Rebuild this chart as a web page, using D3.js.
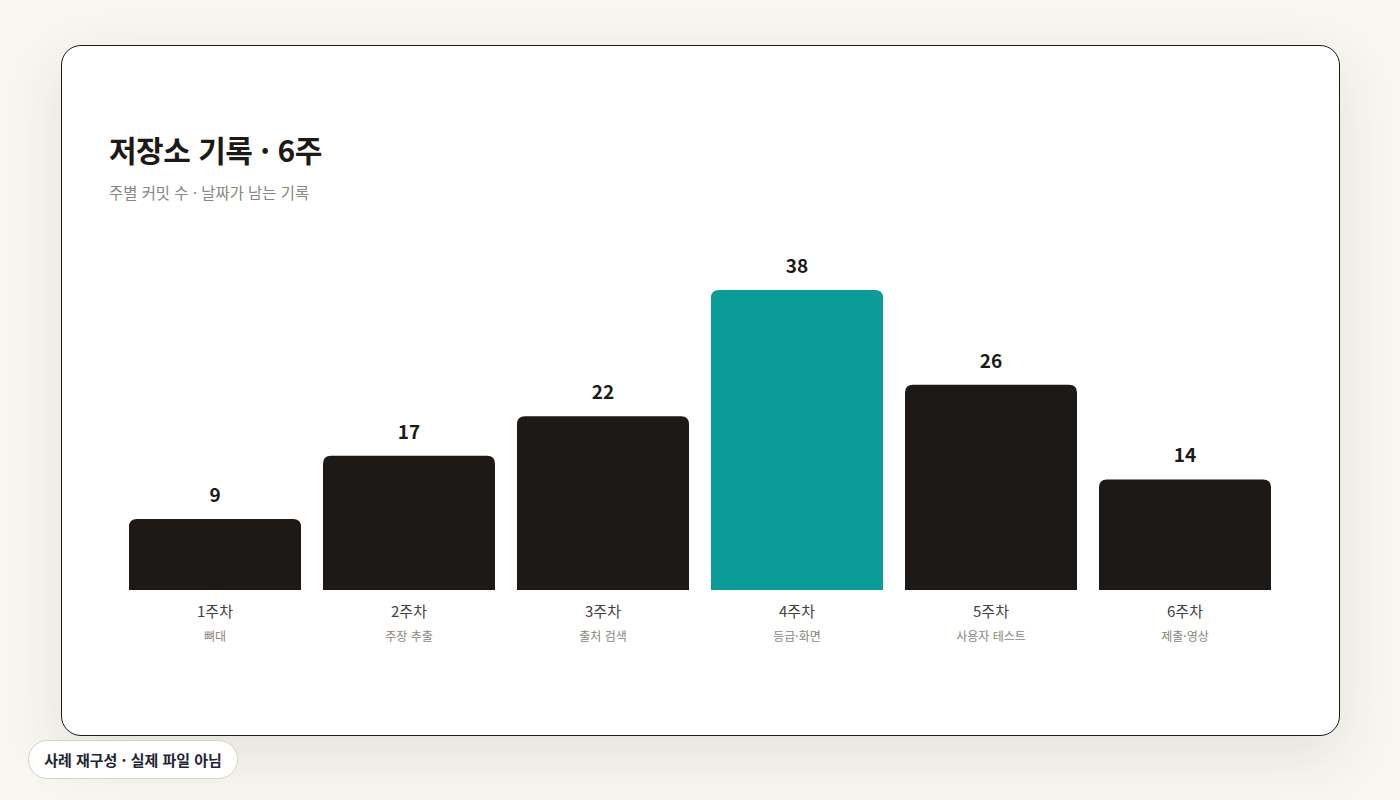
<!DOCTYPE html>
<html lang="ko">
<head>
<meta charset="utf-8">
<script src="https://cdn.jsdelivr.net/npm/d3@7"></script>
<style>
  html, body { margin: 0; padding: 0; }
  body { width: 1400px; height: 800px; background: #f7f6f1; font-family: "Noto Sans CJK KR", "Noto Sans", sans-serif; overflow: hidden; }
  #card { position: absolute; left: 61px; top: 45px; width: 1277px; height: 689px; background: #fff; border: 1px solid #1c1916; border-radius: 20px; box-shadow: 0 20px 60px rgba(60,50,30,0.10); }
  #badge { position: absolute; left: 28px; top: 740px; height: 39px; width: 210px; text-align: center; line-height: 37px; box-sizing: border-box; background: #fff; border: 1px solid #d8d3c2; border-radius: 20px; font-size: 15px; font-weight: 700; color: #1e2533; white-space: nowrap; }
  svg { position: absolute; left: 0; top: 0; }
</style>
</head>
<body>
<div id="card"></div>
<div id="badge">사례 재구성 · 실제 파일 아님</div>
<svg id="chart" width="1400" height="800"></svg>
<script>
const weeks = ["1주차", "2주차", "3주차", "4주차", "5주차", "6주차"];
const tasks = ["뼈대", "주장 추출", "출처 검색", "등급·화면", "사용자 테스트", "제출·영상"];
const commits = [9, 17, 22, 38, 26, 14];
const highlight = "4주차";
const title = "저장소 기록 · 6주";
const subtitle = "주별 커밋 수 · 날짜가 남는 기록";

const svg = d3.select("#chart");
const x = d3.scaleBand().domain(weeks).range([129, 1271]).paddingInner(22/194).paddingOuter(0);
const y = d3.scaleLinear().domain([0, 38]).range([590, 290]);

svg.append("text").attr("x", 109).attr("y", 162).attr("font-size", 30).attr("font-weight", 700)
  .attr("fill", "#1c1916").attr("letter-spacing", -0.5).text(title);
svg.append("text").attr("x", 109).attr("y", 199).attr("font-size", 15.4)
  .attr("fill", "#8a857d").text(subtitle);

const r = 8;
function barPath(x0, y0, w, h) {
  const rr = Math.min(r, h, w/2);
  return `M${x0},${y0+h} V${y0+rr} Q${x0},${y0} ${x0+rr},${y0} H${x0+w-rr} Q${x0+w},${y0} ${x0+w},${y0+rr} V${y0+h} Z`;
}

const g = svg.append("g");
weeks.forEach((wk, i) => {
  const v = commits[i];
  const bx = x(wk), bw = x.bandwidth(), top = y(v), h = y(0) - y(v);
  g.append("path").attr("d", barPath(bx, top, bw, h)).attr("fill", wk === highlight ? "#0c9c98" : "#1c1916");
  g.append("text").attr("x", bx + bw/2).attr("y", top - 17).attr("text-anchor", "middle")
    .attr("font-size", 19).attr("font-weight", 700).attr("fill", "#1c1916").text(v);
  g.append("text").attr("x", bx + bw/2).attr("y", 617).attr("text-anchor", "middle")
    .attr("font-size", 15).attr("fill", "#45413c").text(wk);
  g.append("text").attr("x", bx + bw/2).attr("y", 641).attr("text-anchor", "middle")
    .attr("font-size", 12).attr("fill", "#8a857d").text(tasks[i]);
});
</script>
</body>
</html>
